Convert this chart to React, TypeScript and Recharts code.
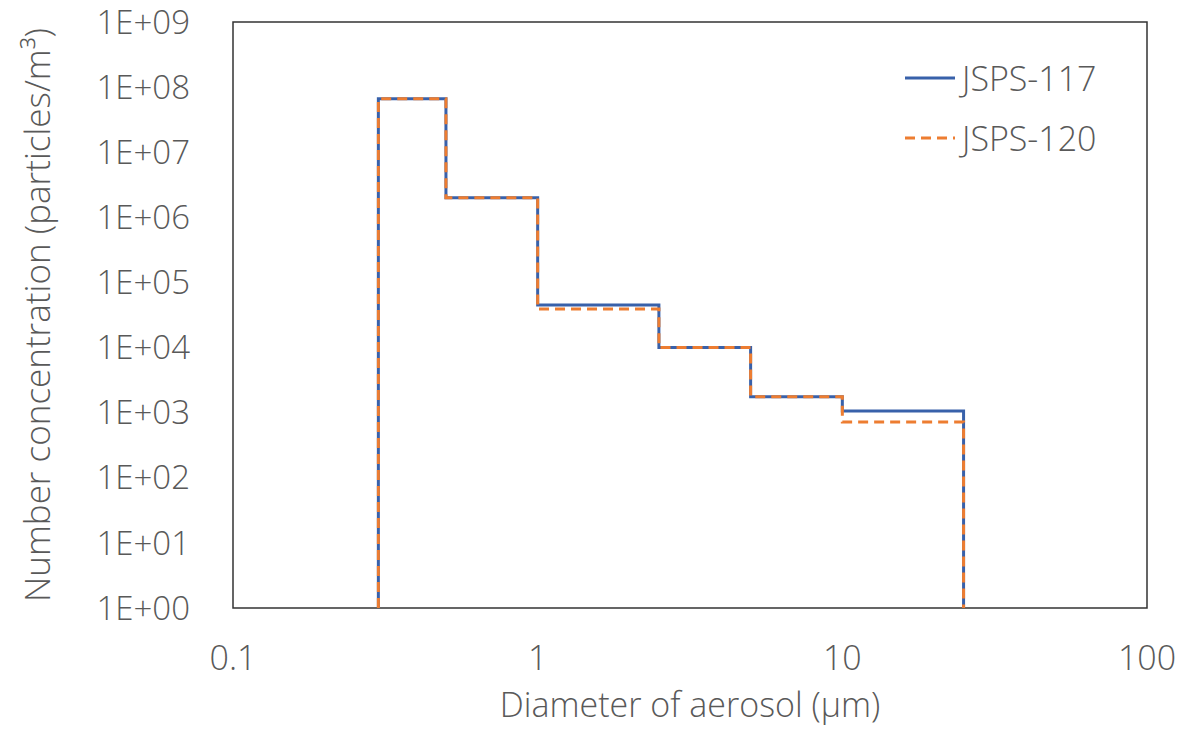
import React from 'react';
import {
  LineChart, Line, XAxis, YAxis, ReferenceArea,
} from 'recharts';

// bin edges of the optical particle counter (µm)
const binEdges = [0.3, 0.5, 1, 2.5, 5, 10, 25];
const jsps117 = [6.6e7, 2.0e6, 4.5e4, 1.0e4, 1.75e3, 1.06e3];
const jsps120 = [6.6e7, 2.0e6, 3.9e4, 1.0e4, 1.75e3, 7.2e2];
const xTicks = [0.1, 1, 10, 100];
const yTicks = [1, 10, 100, 1e3, 1e4, 1e5, 1e6, 1e7, 1e8, 1e9];

const BLUE = '#3861AA';
const ORANGE = '#ED7D31';
const TEXT = '#595959';
const FONT = '"Open Sans", "Noto Sans", sans-serif';

// stepAfter needs a point per bin start, plus the floor at both ends
const data = [
  { d: binEdges[0], a: 1, b: 1 },
  ...jsps117.map((v, i) => ({ d: binEdges[i], a: v, b: jsps120[i] })),
  { d: binEdges[binEdges.length - 1], a: 1, b: 1 },
];

const fmtY = (v: number) => {
  const e = Math.round(Math.log10(v));
  return '1E+' + String(e).padStart(2, '0');
};

function LegendBox() {
  const items = [
    { name: 'JSPS-117', color: BLUE, dash: undefined },
    { name: 'JSPS-120', color: ORANGE, dash: '10 6' },
  ];
  return (
    <div
      style={{
        position: 'absolute', left: 902, top: 48,
        fontFamily: FONT, fontWeight: 300, fontSize: 34, color: TEXT,
      }}
    >
      {items.map((it) => (
        <div key={it.name} style={{ display: 'flex', alignItems: 'center', height: 60 }}>
          <svg width={56} height={10} style={{ marginRight: 4 }}>
            <line x1={3} y1={5} x2={53} y2={5} stroke={it.color} strokeWidth={3} strokeDasharray={it.dash} />
          </svg>
          <span>{it.name}</span>
        </div>
      ))}
    </div>
  );
}

export default function App() {
  return (
    <div style={{ position: 'absolute', left: 0, top: 0, width: 1202, height: 730, background: '#fff' }}>
      <LineChart
        width={1202}
        height={730}
        data={data}
        margin={{ top: 22, right: 55, bottom: 0, left: 0 }}
      >
        <XAxis
          dataKey="d"
          type="number"
          scale="log"
          domain={[0.1, 100]}
          ticks={xTicks}
          allowDataOverflow
          height={122}
          tickLine={false}
          axisLine={false}
          tickMargin={32}
          tick={{ fill: TEXT, fontSize: 34, fontFamily: FONT, fontWeight: 300 }}
          label={{
            value: 'Diameter of aerosol (µm)',
            position: 'insideBottom',
            offset: 13,
            fill: TEXT,
            fontSize: 34,
            fontFamily: FONT,
            fontWeight: 300,
          }}
        />
        <YAxis
          type="number"
          scale="log"
          domain={[1, 1e9]}
          ticks={yTicks}
          allowDataOverflow
          width={233}
          tickLine={false}
          axisLine={false}
          tickMargin={37}
          tickFormatter={fmtY}
          tick={{ fill: TEXT, fontSize: 33, fontFamily: FONT, fontWeight: 300 }}
          label={{
            value: 'Number concentration (particles/m³)',
            angle: -90,
            position: 'insideLeft',
            offset: 38,
            style: { textAnchor: 'middle' },
            fill: TEXT,
            fontSize: 35,
            fontFamily: FONT,
            fontWeight: 300,
          }}
        />
        <ReferenceArea
          x1={0.1}
          x2={100}
          y1={1}
          y2={1e9}
          fill="none"
          stroke="#333"
          strokeWidth={1.5}
          ifOverflow="extendDomain"
        />
        <Line
          type="stepAfter"
          dataKey="a"
          name="JSPS-117"
          stroke={BLUE}
          strokeWidth={3}
          dot={false}
          isAnimationActive={false}
        />
        <Line
          type="stepAfter"
          dataKey="b"
          name="JSPS-120"
          stroke={ORANGE}
          strokeWidth={3}
          strokeDasharray="10 6"
          dot={false}
          isAnimationActive={false}
        />
      </LineChart>
      <LegendBox />
    </div>
  );
}
